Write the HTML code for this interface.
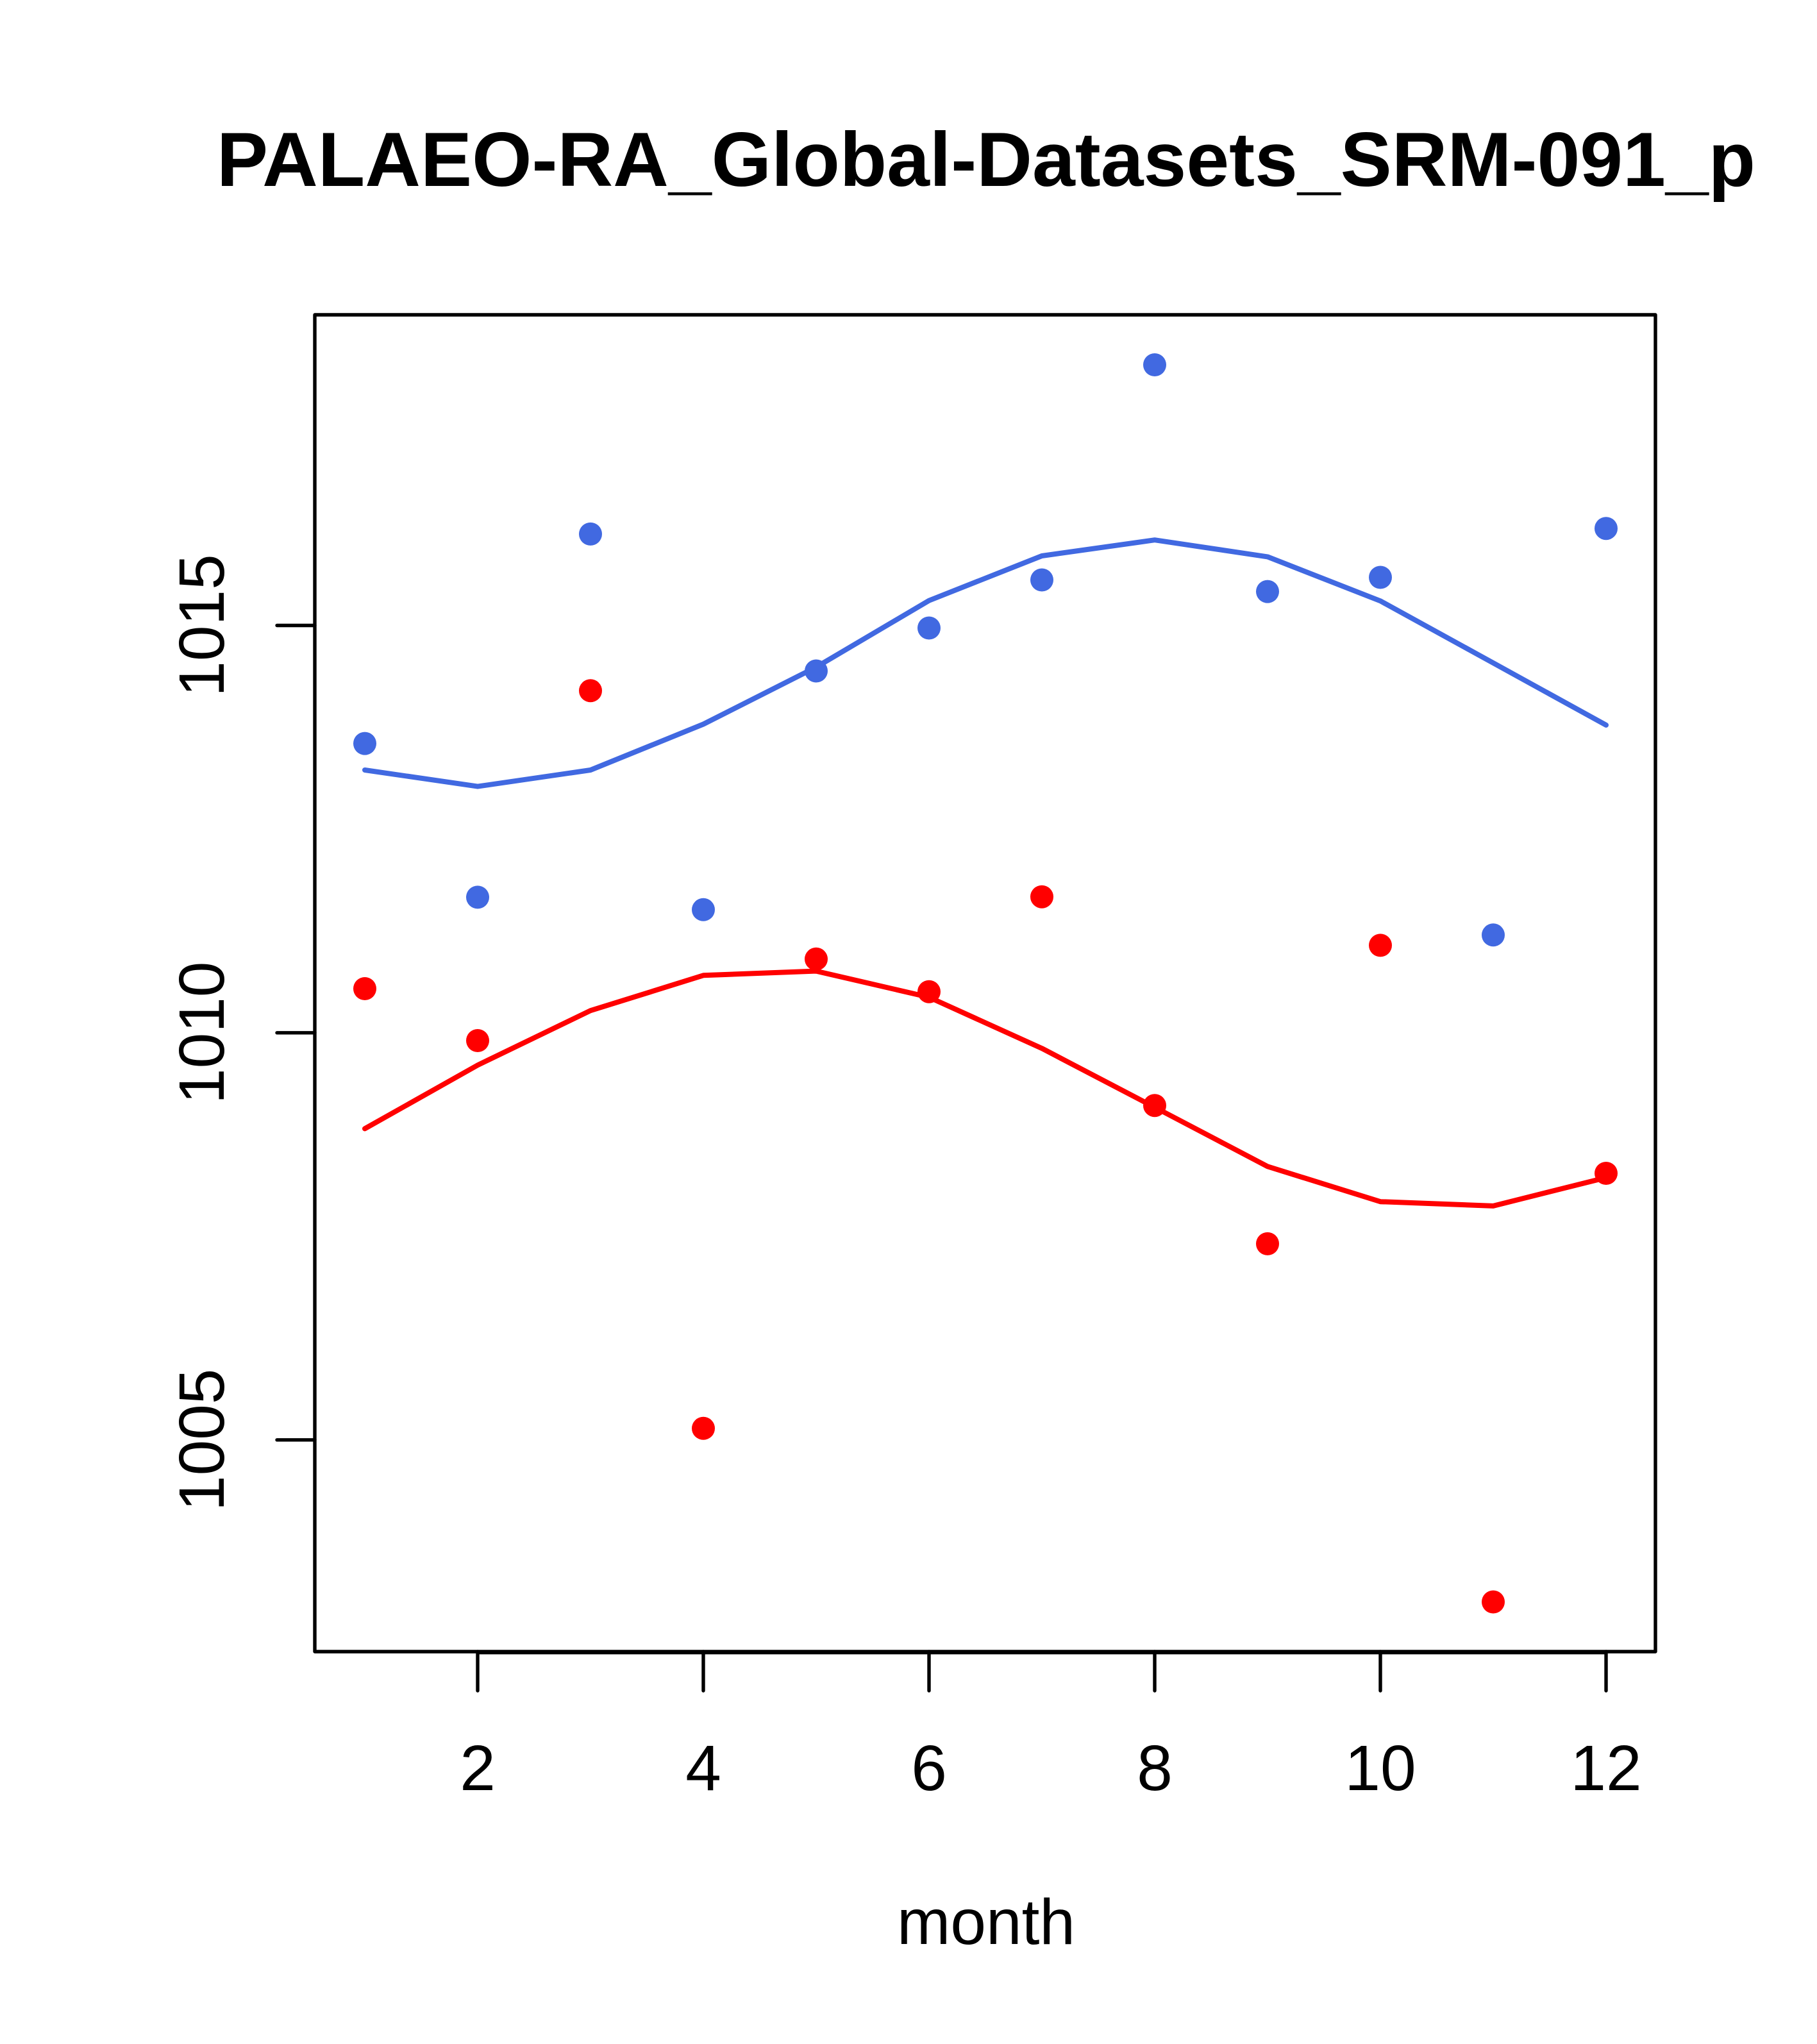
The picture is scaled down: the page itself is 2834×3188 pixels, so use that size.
<!DOCTYPE html>
<html>
<head>
<meta charset="utf-8">
<style>
  html, body { margin: 0; padding: 0; background: #ffffff; }
  svg { display: block; }
  text { font-family: "Liberation Sans", Arial, sans-serif; fill: #000; }
</style>
</head>
<body>
<svg width="2834" height="3188" viewBox="0 0 2834 3188" xmlns="http://www.w3.org/2000/svg">
  <rect x="0" y="0" width="2834" height="3188" fill="#ffffff"/>

  <!-- Title -->
  <text x="338" y="290" font-size="120" font-weight="bold" textLength="2400" lengthAdjust="spacingAndGlyphs">PALAEO-RA_Global-Datasets_SRM-091_p</text>

  <!-- Plot box -->
  <rect x="491" y="491" width="2091" height="2085" fill="none" stroke="#000" stroke-width="5.4" stroke-linejoin="round"/>

  <!-- X axis line and ticks -->
  <g stroke="#000" stroke-width="5.4" stroke-linecap="round">
    <line x1="745" y1="2577.5" x2="2505" y2="2577.5"/>
    <line x1="745" y1="2576" x2="745" y2="2637"/>
    <line x1="1097" y1="2576" x2="1097" y2="2637"/>
    <line x1="1449" y1="2576" x2="1449" y2="2637"/>
    <line x1="1801" y1="2576" x2="1801" y2="2637"/>
    <line x1="2153" y1="2576" x2="2153" y2="2637"/>
    <line x1="2505" y1="2576" x2="2505" y2="2637"/>
  </g>
  <g font-size="100" text-anchor="middle">
    <text x="745" y="2792">2</text>
    <text x="1097" y="2792">4</text>
    <text x="1449" y="2792">6</text>
    <text x="1801" y="2792">8</text>
    <text x="2153" y="2792">10</text>
    <text x="2505" y="2792">12</text>
  </g>
  <text x="1538" y="3032" font-size="100" text-anchor="middle">month</text>

  <!-- Y axis ticks -->
  <g stroke="#000" stroke-width="5.4" stroke-linecap="round">
    <line x1="432" y1="975.5" x2="491" y2="975.5"/>
    <line x1="432" y1="1610.8" x2="491" y2="1610.8"/>
    <line x1="432" y1="2245.8" x2="491" y2="2245.8"/>
  </g>
  <g font-size="100" text-anchor="middle">
    <text transform="translate(349,975.5) rotate(-90)">1015</text>
    <text transform="translate(349,1610.8) rotate(-90)">1010</text>
    <text transform="translate(349,2245.8) rotate(-90)">1005</text>
  </g>

  <!-- Blue line -->
  <polyline fill="none" stroke="#4169E1" stroke-width="8" stroke-linejoin="round" stroke-linecap="round"
    points="569,1201 745,1226.6 921,1201 1097,1129.5 1273,1040.5 1449,936.7 1625,867 1801,842.2 1977,868.4 2153,937.3 2329,1034 2505,1130.9"/>

  <!-- Red line -->
  <polyline fill="none" stroke="#FF0000" stroke-width="8" stroke-linejoin="round" stroke-linecap="round"
    points="569,1760.4 745,1661.3 921,1576.2 1097,1521.3 1273,1514.6 1449,1555.4 1625,1635.1 1801,1727 1977,1819.3 2153,1874.2 2329,1880.9 2505,1836.7"/>

  <!-- Blue points -->
  <g fill="#4169E1">
    <circle cx="569" cy="1159.6" r="18"/>
    <circle cx="745" cy="1399.4" r="18"/>
    <circle cx="921" cy="832.9" r="18"/>
    <circle cx="1097" cy="1418.8" r="18"/>
    <circle cx="1273" cy="1046.5" r="18"/>
    <circle cx="1449" cy="979.5" r="18"/>
    <circle cx="1625" cy="904.5" r="18"/>
    <circle cx="1801" cy="569" r="18"/>
    <circle cx="1977" cy="922.6" r="18"/>
    <circle cx="2153" cy="900.5" r="18"/>
    <circle cx="2329" cy="1458.3" r="18"/>
    <circle cx="2505" cy="824.2" r="18"/>
  </g>

  <!-- Red points -->
  <g fill="#FF0000">
    <circle cx="569" cy="1542" r="18"/>
    <circle cx="745" cy="1623" r="18"/>
    <circle cx="921" cy="1077.3" r="18"/>
    <circle cx="1097" cy="2227.8" r="18"/>
    <circle cx="1273" cy="1495.8" r="18"/>
    <circle cx="1449" cy="1546.7" r="18"/>
    <circle cx="1625" cy="1398.7" r="18"/>
    <circle cx="1801" cy="1724.2" r="18"/>
    <circle cx="1977" cy="1939.9" r="18"/>
    <circle cx="2153" cy="1474.4" r="18"/>
    <circle cx="2329" cy="2498.5" r="18"/>
    <circle cx="2505" cy="1830" r="18"/>
  </g>
</svg>
</body>
</html>
